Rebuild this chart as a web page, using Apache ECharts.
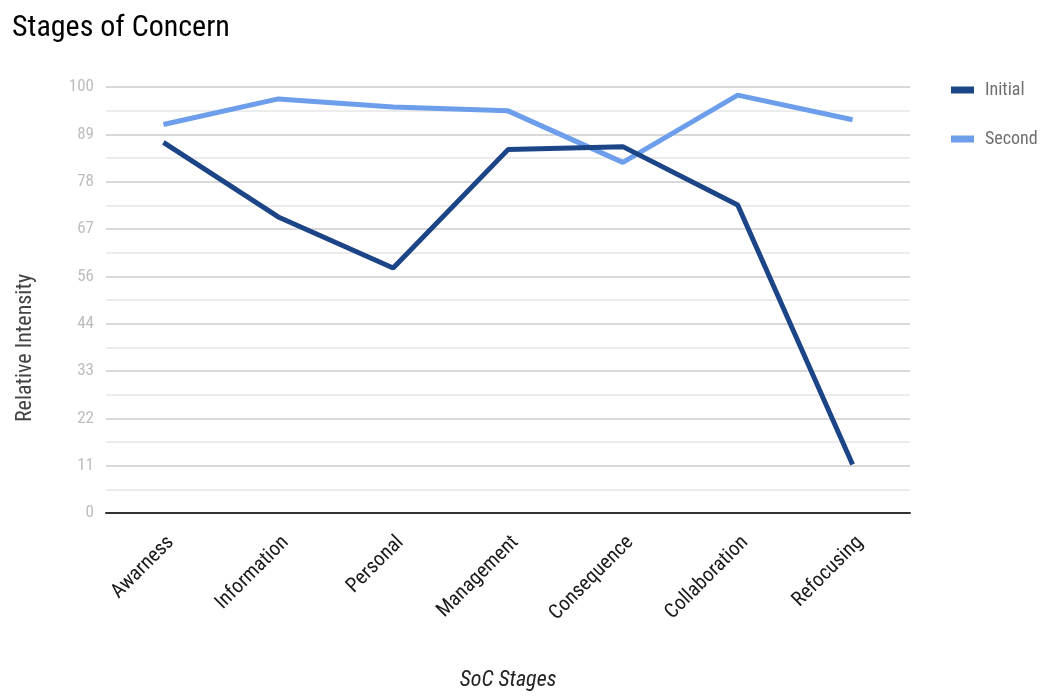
<!DOCTYPE html>
<html>
<head>
<meta charset="utf-8">
<script src="https://cdn.jsdelivr.net/npm/echarts@6/dist/echarts.min.js"></script>
<style>
  html, body { margin: 0; padding: 0; background: #fff; }
  #chart { width: 1042px; height: 696px; }
</style>
</head>
<body>
<div id="chart"></div>
<script>
// Stages of Concern profile: two administrations of the SoC questionnaire
const stages = ['Awarness', 'Information', 'Personal', 'Management', 'Consequence', 'Collaboration', 'Refocusing'];
const initialScores = [87, 69.5, 57.5, 85.3, 86, 72.3, 11.4];
const secondScores = [91.2, 97.2, 95.3, 94.4, 82.3, 98.1, 92.3];
const yTickLabels = ['0', '11', '22', '33', '44', '56', '67', '78', '89', '100'];

const FONT = '"Roboto Condensed", "Liberation Sans", Arial, sans-serif';
const yStep = 100 / 9;

const chart = echarts.init(document.getElementById('chart'), null, { renderer: 'canvas' });

chart.setOption({
  animation: false,
  backgroundColor: '#ffffff',
  textStyle: { fontFamily: FONT },
  title: {
    text: 'Stages of Concern',
    left: 7,
    top: 8,
    textStyle: { fontFamily: FONT, fontSize: 30, fontWeight: 'normal', color: '#000000' }
  },
  legend: {
    orient: 'vertical',
    left: 946,
    top: 76,
    itemWidth: 23,
    itemHeight: 7,
    itemGap: 31,
    icon: 'rect',
    textStyle: { fontFamily: FONT, fontSize: 18, color: '#6f6f6f', padding: [0, 0, 0, 6] },
    data: ['Initial', 'Second']
  },
  grid: { left: 106, right: 132, top: 87, bottom: 179, containLabel: false },
  xAxis: {
    type: 'category',
    data: stages,
    boundaryGap: true,
    name: 'SoC Stages',
    nameLocation: 'middle',
    nameGap: 156,
    nameTextStyle: { fontFamily: FONT, fontSize: 22, fontStyle: 'italic', color: '#222222' },
    axisLine: { show: true, lineStyle: { color: '#333333', width: 2 } },
    axisTick: { show: false },
    axisLabel: {
      rotate: 45,
      margin: 19,
      interval: 0,
      verticalAlign: 'top',
      fontFamily: FONT,
      fontSize: 20.5,
      color: '#1a1a1a'
    },
    splitLine: { show: false }
  },
  yAxis: {
    type: 'value',
    min: 0,
    max: 100,
    interval: yStep,
    name: 'Relative Intensity',
    nameLocation: 'middle',
    nameGap: 70,
    nameRotate: 90,
    // the title sits a little below the middle of the plot
    nameTextStyle: { fontFamily: FONT, fontSize: 22, color: '#444444', padding: [0, 96, 0, 0] },
    axisLine: { show: false },
    axisTick: { show: false },
    axisLabel: {
      margin: 12,
      fontFamily: FONT,
      fontSize: 17,
      color: '#bdbdbd',
      formatter: function (v) {
        return yTickLabels[Math.round(v / yStep)];
      }
    },
    splitLine: { show: true, lineStyle: { color: '#cccccc', width: 1.5 } },
    minorTick: { show: false, splitNumber: 2 },
    minorSplitLine: { show: true, lineStyle: { color: '#e6e6e6', width: 1.5 } }
  },
  series: [
    {
      name: 'Initial',
      type: 'line',
      data: initialScores,
      symbol: 'none',
      lineStyle: { width: 5, color: '#1c4587' },
      itemStyle: { color: '#1c4587' },
      z: 3
    },
    {
      name: 'Second',
      type: 'line',
      data: secondScores,
      symbol: 'none',
      lineStyle: { width: 5, color: '#6d9eeb' },
      itemStyle: { color: '#6d9eeb' },
      z: 2
    }
  ]
});
</script>
</body>
</html>
